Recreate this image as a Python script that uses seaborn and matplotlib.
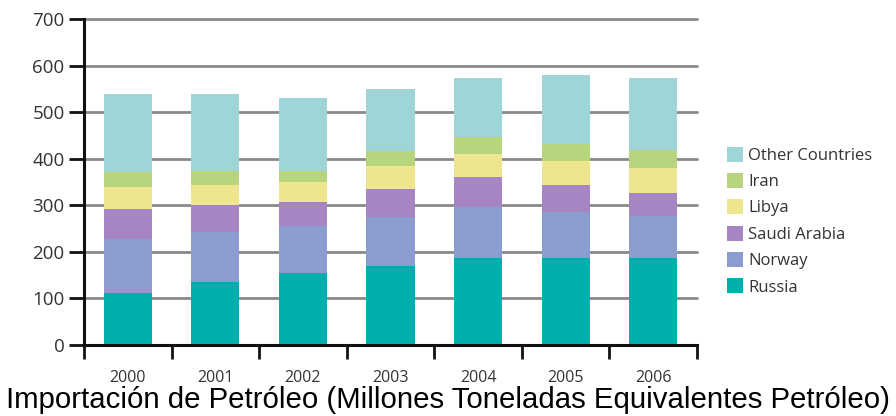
import matplotlib
matplotlib.use("Agg")
import matplotlib.pyplot as plt
import seaborn as sns
import pandas as pd
import numpy as np
from matplotlib.patches import Patch
from matplotlib.ticker import FixedLocator

years = ["2000", "2001", "2002", "2003", "2004", "2005", "2006"]
russia = [111, 135, 154, 169, 187, 187, 187]
norway = [116, 108, 102, 106, 109, 98, 90]
saudi_arabia = [65, 57, 52, 61, 65, 58, 49]
libya = [47, 43, 41, 48, 50, 52, 55]
iran = [33, 31, 25, 33, 36, 36, 37]
other_countries = [168, 165, 157, 133, 127, 148, 155]

series = [
    ("Russia", russia, "#00aeac"),
    ("Norway", norway, "#8b9ccf"),
    ("Saudi Arabia", saudi_arabia, "#a586c2"),
    ("Libya", libya, "#ede68f"),
    ("Iran", iran, "#b6d57c"),
    ("Other Countries", other_countries, "#9fd5d6"),
]

sns.set_theme(style="white")
plt.rcParams["font.family"] = ["Open Sans", "DejaVu Sans"]

fig = plt.figure(figsize=(8.96, 4.16), dpi=100)
ax = fig.add_axes([84 / 896, 1 - 345 / 416, (697 - 84) / 896, (345 - 19) / 416])

bottom = np.zeros(len(years))
for name, vals, color in series:
    df = pd.DataFrame({"year": years, "value": vals})
    sns.barplot(data=df, x="year", y="value", color=color, bottom=bottom,
                width=0.55, ax=ax, linewidth=0, saturation=1, zorder=3)
    bottom = bottom + np.array(vals)

ax.set_xlim(-0.5, len(years) - 0.5)
ax.set_ylim(0, 700)
ax.set_yticks(range(0, 701, 100))
for y in range(100, 701, 100):
    ax.axhline(y, color="#8a8a8a", linewidth=2.0, zorder=1, clip_on=False)

ax.xaxis.set_minor_locator(FixedLocator(np.arange(-0.5, len(years), 1.0)))
ax.tick_params(axis="x", which="major", bottom=False, length=0, pad=18,
               labelsize=11.5, labelcolor="#333333")
ax.tick_params(axis="x", which="minor", bottom=True, length=10, width=2,
               color="#111111", direction="out")
ax.tick_params(axis="y", which="major", left=True, length=11, width=2,
               color="#111111", direction="out", pad=3, labelsize=13.5,
               labelcolor="#333333")
ax.set_xlabel("")
ax.set_ylabel("")

for side in ("top", "right"):
    ax.spines[side].set_visible(False)
for side in ("left", "bottom"):
    ax.spines[side].set_color("#111111")
    ax.spines[side].set_linewidth(2.2)
ax.spines["bottom"].set_zorder(5)

handles = [Patch(facecolor=c, edgecolor="none", label=n) for n, _, c in reversed(series)]
fig.legend(handles=handles, loc="upper left", bbox_to_anchor=(720 / 896, 1 - 140 / 416),
           frameon=False, fontsize=12, handlelength=1.0, handleheight=1.0,
           handletextpad=0.3, labelspacing=0.55, labelcolor="#333333",
           borderaxespad=0)

fig.text(0.5, 1 - 408 / 416, "Importación de Petróleo (Millones Toneladas Equivalentes Petróleo)",
         ha="center", va="baseline", fontsize=21.2, color="black",
         family=["Liberation Sans", "DejaVu Sans"])

fig.savefig("out.png", dpi=100)
